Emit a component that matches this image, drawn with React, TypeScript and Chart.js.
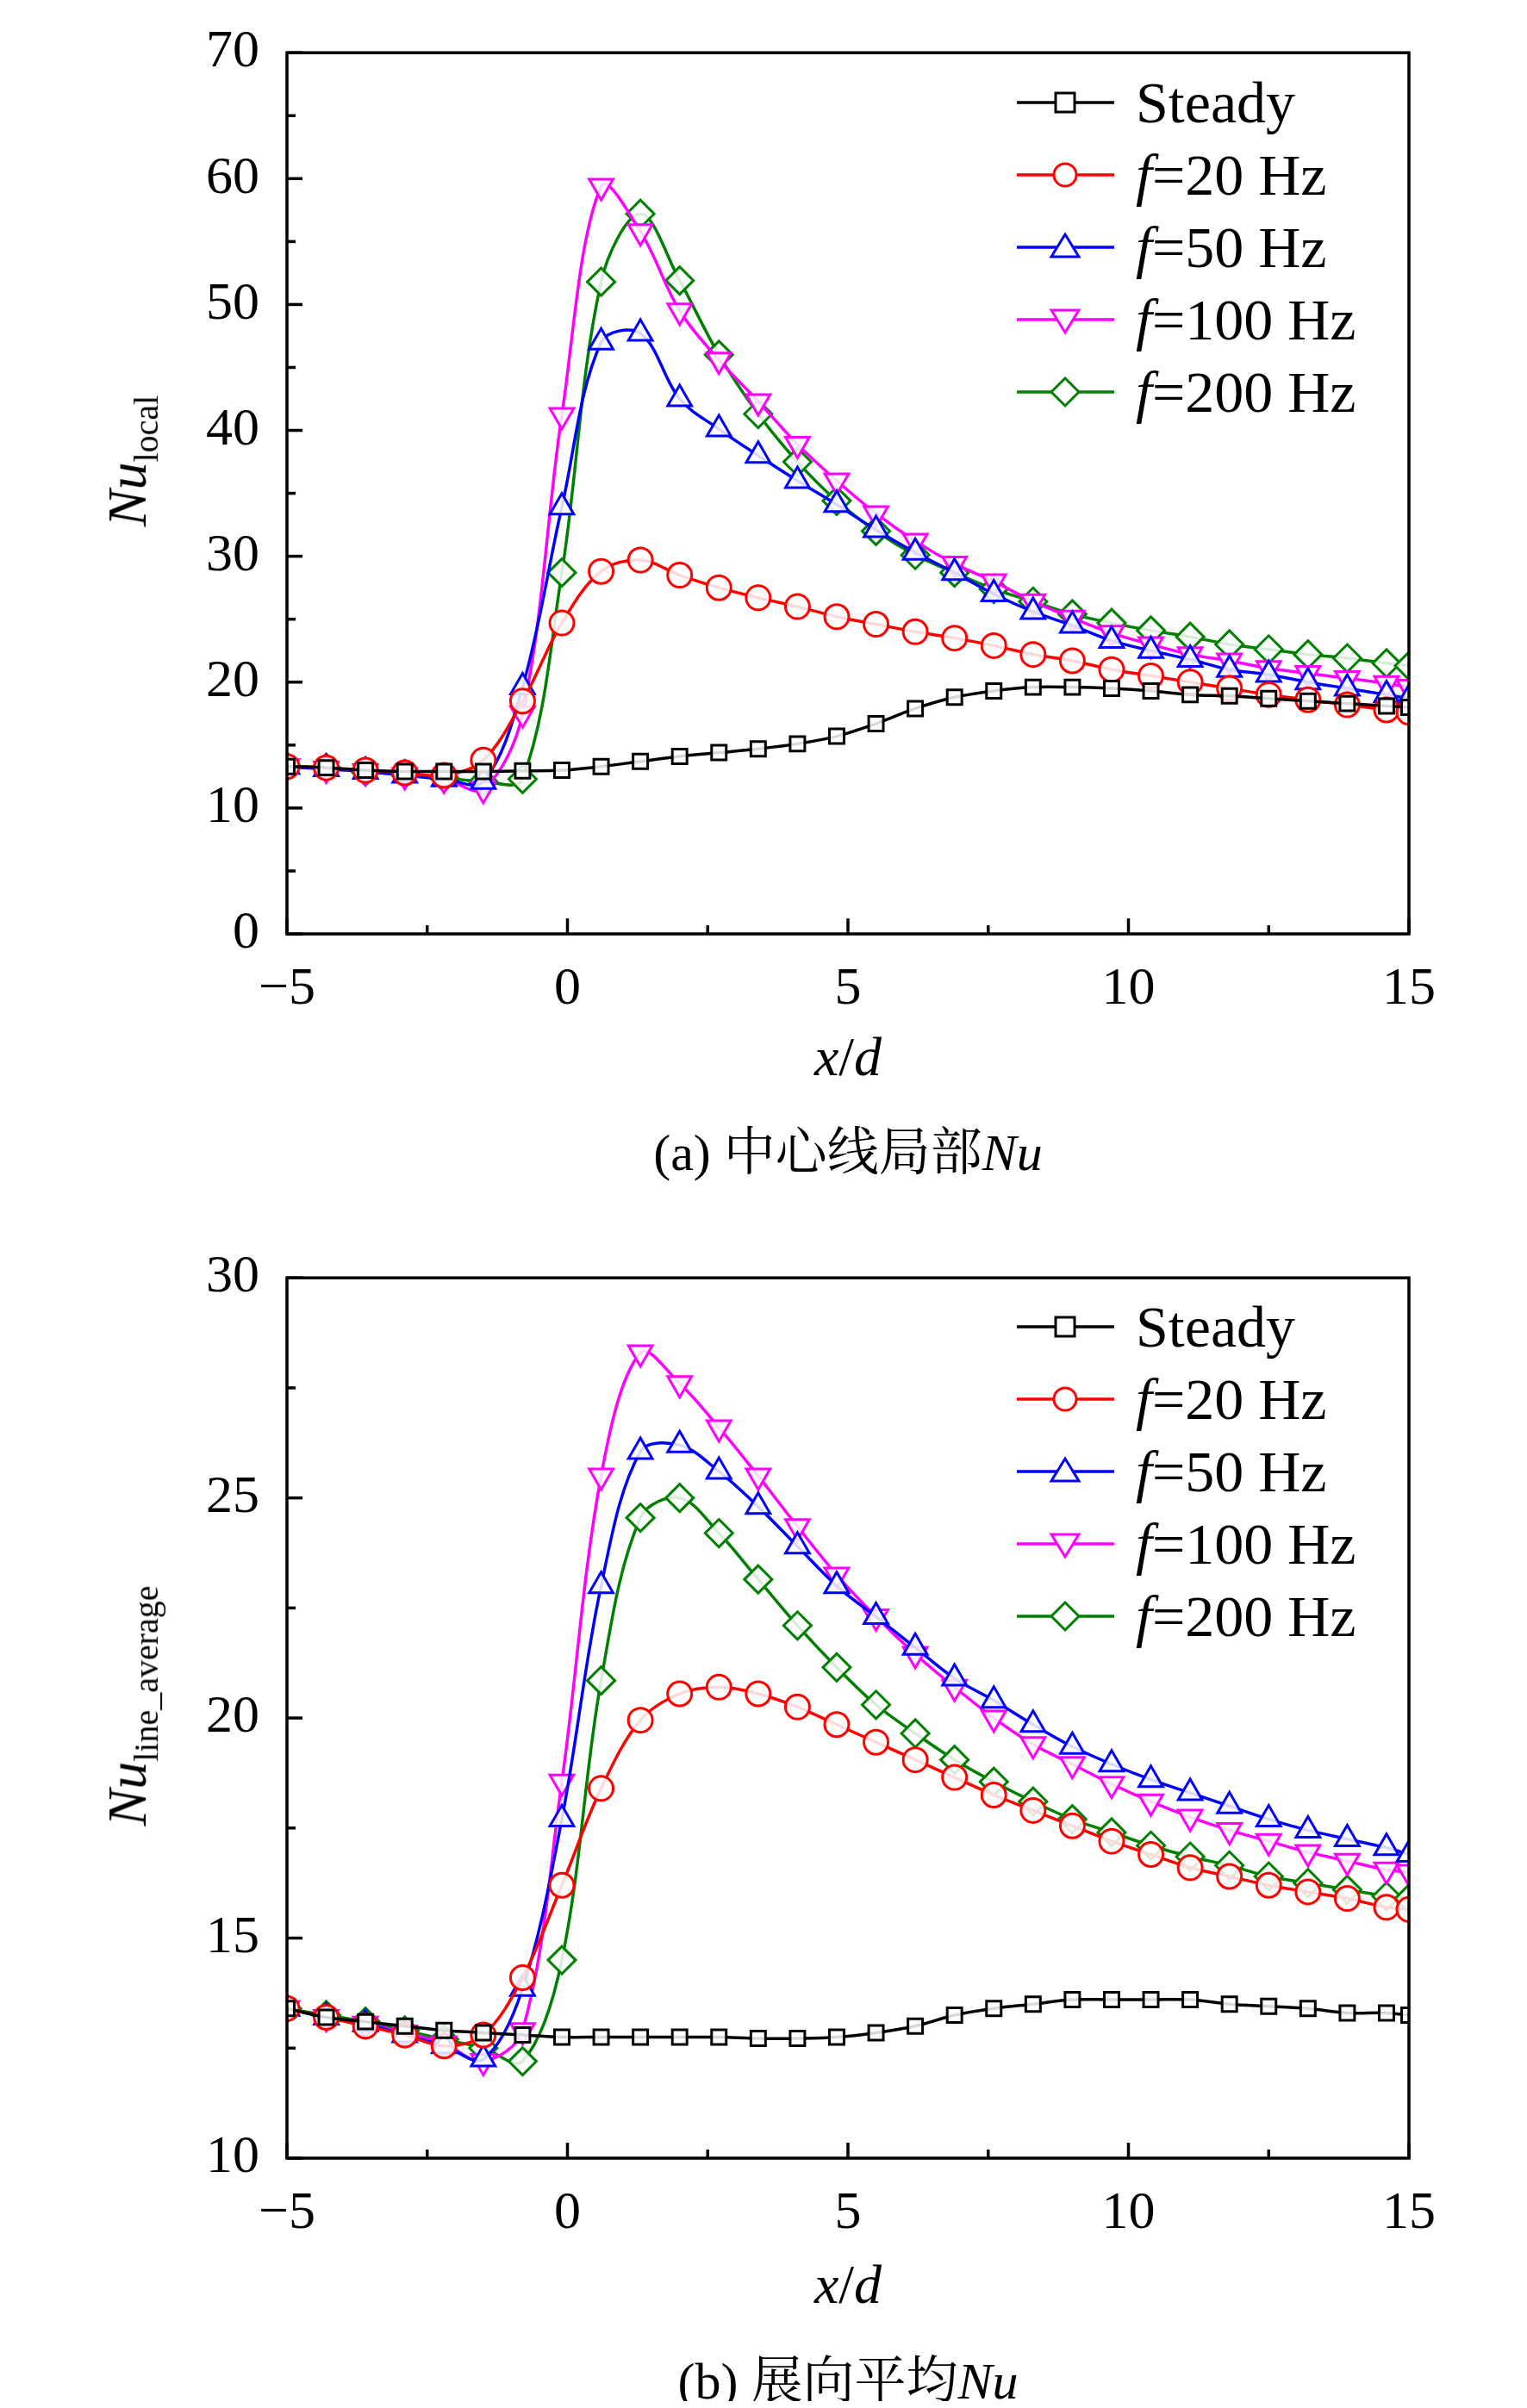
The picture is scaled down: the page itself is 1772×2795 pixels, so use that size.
import React, { useEffect, useRef } from "react";
import { Chart, registerables } from "chart.js";
Chart.register(...registerables);

const xValues = [-5, -4.3, -3.6, -2.9, -2.2, -1.5, -0.8, -0.1, 0.6, 1.3, 2.0, 2.7, 3.4, 4.1, 4.8, 5.5, 6.2, 6.9, 7.6, 8.3, 9.0, 9.7, 10.4, 11.1, 11.8, 12.5, 13.2, 13.9, 14.6, 15];
const seriesNames = ["Steady", "20 Hz", "50 Hz", "100 Hz", "200 Hz"];
const seriesColors = ["#000000", "#ff0000", "#0000ff", "#ff00ff", "#008000"];

// (a) centreline local Nu
const aSteady = [13.3, 13.2, 13.0, 12.9, 12.9, 12.9, 12.95, 13.0, 13.3, 13.7, 14.1, 14.4, 14.7, 15.1, 15.7, 16.7, 17.9, 18.8, 19.3, 19.6, 19.6, 19.5, 19.3, 19.0, 18.9, 18.7, 18.5, 18.3, 18.1, 18.0];
const a20 = [13.3, 13.2, 13.0, 12.8, 12.6, 13.8, 18.5, 24.7, 28.8, 29.7, 28.5, 27.5, 26.7, 26.0, 25.2, 24.6, 24.0, 23.5, 22.9, 22.2, 21.7, 21.0, 20.5, 20.0, 19.5, 19.0, 18.6, 18.2, 17.8, 17.6];
const a50 = [13.3, 13.1, 12.9, 12.6, 12.3, 12.1, 19.6, 33.9, 47.0, 47.7, 42.5, 40.1, 38.0, 36.0, 34.1, 32.1, 30.3, 28.7, 27.0, 25.6, 24.5, 23.3, 22.5, 21.8, 21.0, 20.6, 20.0, 19.5, 19.0, 18.7];
const a100 = [13.3, 13.1, 12.9, 12.6, 12.3, 11.5, 17.5, 41.2, 59.4, 55.8, 49.5, 45.6, 42.3, 38.9, 36.0, 33.4, 31.2, 29.4, 28.0, 26.4, 25.1, 23.9, 23.0, 22.2, 21.7, 21.1, 20.7, 20.3, 19.9, 19.6];
const a200 = [13.3, 13.2, 12.9, 12.7, 12.4, 12.1, 12.3, 28.7, 51.8, 57.2, 51.9, 46.0, 41.3, 37.5, 34.4, 32.0, 30.1, 28.7, 27.4, 26.4, 25.4, 24.7, 24.1, 23.6, 23.0, 22.6, 22.2, 21.9, 21.5, 21.3];

// (b) spanwise-averaged Nu
const bSteady = [13.4, 13.2, 13.1, 13.0, 12.9, 12.85, 12.8, 12.75, 12.75, 12.75, 12.75, 12.75, 12.72, 12.72, 12.75, 12.85, 13.0, 13.25, 13.4, 13.5, 13.6, 13.6, 13.6, 13.6, 13.5, 13.45, 13.4, 13.3, 13.3, 13.25];
const b20 = [13.4, 13.2, 13.0, 12.8, 12.55, 12.8, 14.1, 16.2, 18.4, 19.95, 20.55, 20.7, 20.55, 20.25, 19.85, 19.45, 19.05, 18.65, 18.25, 17.9, 17.55, 17.2, 16.9, 16.6, 16.4, 16.2, 16.05, 15.9, 15.7, 15.65];
const b50 = [13.4, 13.2, 13.05, 12.8, 12.55, 12.25, 13.85, 17.7, 23.0, 26.05, 26.2, 25.6, 24.8, 23.9, 23.0, 22.3, 21.6, 20.9, 20.4, 19.85, 19.35, 18.95, 18.6, 18.3, 18.0, 17.7, 17.45, 17.25, 17.05, 16.9];
const b100 = [13.4, 13.2, 13.05, 12.85, 12.6, 12.2, 12.9, 18.55, 25.5, 28.3, 27.6, 26.6, 25.5, 24.35, 23.25, 22.3, 21.45, 20.7, 20.0, 19.4, 18.95, 18.5, 18.1, 17.75, 17.45, 17.2, 16.95, 16.75, 16.55, 16.5];
const b200 = [13.4, 13.25, 13.1, 12.9, 12.7, 12.5, 12.2, 14.5, 20.85, 24.55, 25.0, 24.2, 23.15, 22.1, 21.15, 20.3, 19.65, 19.05, 18.55, 18.1, 17.7, 17.4, 17.1, 16.85, 16.65, 16.4, 16.25, 16.1, 15.95, 15.9];

const xTicks = [-5, 0, 5, 10, 15];

const SERIF = '"Liberation Serif", "Times New Roman", serif';
const CJK = '"Liberation Serif", "Noto Serif CJK SC", "Noto Sans CJK SC", serif';

const pointStyles: any[] = ["rect", "circle", "triangle", "triangle", "rectRot"];
const rotations = [0, 0, 0, 180, 0];
const radii = [12, 14, 16, 16, 16];

const W = 1772;
const PLOT_L = 333;
const PLOT_R = 1635;

const frameTicks = (minorX: number, minorY: number) => ({
  id: "frameTicks",
  afterDatasetsDraw(chart: any) {
    const { ctx, chartArea: a, scales } = chart;
    ctx.save();
    ctx.strokeStyle = "#000";
    ctx.lineWidth = 3.5;
    ctx.strokeRect(a.left, a.top, a.right - a.left, a.bottom - a.top);
    const xs = scales.x;
    for (let v = xs.min; v <= xs.max + 1e-6; v += minorX) {
      const p = xs.getPixelForValue(v);
      const major = Math.abs(v / (minorX * 2) - Math.round(v / (minorX * 2))) < 1e-6;
      ctx.beginPath();
      ctx.moveTo(p, a.bottom);
      ctx.lineTo(p, a.bottom - (major ? 18 : 10));
      ctx.stroke();
    }
    const ys = scales.y;
    for (let v = ys.min; v <= ys.max + 1e-6; v += minorY) {
      const p = ys.getPixelForValue(v);
      const major = Math.abs(v / (minorY * 2) - Math.round(v / (minorY * 2))) < 1e-6;
      ctx.beginPath();
      ctx.moveTo(a.left, p);
      ctx.lineTo(a.left + (major ? 18 : 10), p);
      ctx.stroke();
    }
    ctx.restore();
  },
});

function Panel(props: { series: number[][]; yMin: number; yMax: number; yStep: number; height: number; plotTop: number; plotBottom: number }) {
  const ref = useRef<HTMLCanvasElement>(null);
  useEffect(() => {
    const { series, yMin, yMax, yStep, height, plotTop, plotBottom } = props;
    const chart = new Chart(ref.current as HTMLCanvasElement, {
      type: "line",
      data: {
        datasets: series.map((s, i) => ({
          label: seriesNames[i],
          data: s.map((y, j) => ({ x: xValues[j], y })),
          borderColor: seriesColors[i],
          backgroundColor: "#ffffff",
          borderWidth: 3.5,
          pointStyle: pointStyles[i],
          rotation: rotations[i],
          pointRadius: radii[i],
          pointBorderWidth: 3,
          pointBackgroundColor: "rgba(255,255,255,0.85)",
          tension: 0.35,
        })),
      },
      options: {
        animation: false,
        responsive: false,
        devicePixelRatio: 1,
        layout: { padding: { top: plotTop, right: W - PLOT_R, bottom: 0, left: 0 } },
        plugins: { legend: { display: false }, tooltip: { enabled: false } },
        scales: {
          x: {
            type: "linear",
            min: -5,
            max: 15,
            afterBuildTicks: (s: any) => { s.ticks = xTicks.map((v) => ({ value: v })); },
            afterFit: (s: any) => { s.height = height - plotBottom; },
            grid: { display: false },
            border: { display: false },
            ticks: {
              color: "#000",
              padding: 20,
              font: { family: SERIF, size: 62 },
              maxRotation: 0,
              callback: (v: any) => String(v).replace("-", "\u2212"),
            },
          },
          y: {
            min: yMin,
            max: yMax,
            afterFit: (s: any) => { s.width = PLOT_L; },
            grid: { display: false },
            border: { display: false },
            ticks: { stepSize: yStep, color: "#000", padding: 24, font: { family: SERIF, size: 62 } },
          },
        },
      },
      plugins: [frameTicks(2.5, yStep / 2)],
    });
    return () => chart.destroy();
  }, []);
  return <canvas ref={ref} width={W} height={props.height} style={{ position: "absolute", left: 0, top: 0 }} />;
}

function Legend(props: { top: number }) {
  const rowH = 84;
  return (
    <div style={{ position: "absolute", left: 0, top: props.top, width: W }}>
      {seriesNames.map((n, i) => {
        const y = i * rowH;
        const c = seriesColors[i];
        let marker: any;
        if (i === 0) marker = <rect x={45} y={-1} width={22} height={22} fill="#fff" stroke={c} strokeWidth={3} />;
        else if (i === 1) marker = <circle cx={56} cy={10} r={13} fill="#fff" stroke={c} strokeWidth={3} />;
        else if (i === 2) marker = <polygon points="56,-5 72,21 40,21" fill="#fff" stroke={c} strokeWidth={3} />;
        else if (i === 3) marker = <polygon points="40,-1 72,-1 56,25" fill="#fff" stroke={c} strokeWidth={3} />;
        else marker = <polygon points="56,-6 72,10 56,26 40,10" fill="#fff" stroke={c} strokeWidth={3} />;
        return (
          <div key={n} style={{ position: "absolute", left: 1180, top: y - 40, height: 80, display: "flex", alignItems: "center" }}>
            <svg width={114} height={40} viewBox="0 -10 114 40" style={{ overflow: "visible" }}>
              <line x1={0} y1={10} x2={113} y2={10} stroke={c} strokeWidth={3.5} />
              {marker}
            </svg>
            <span style={{ marginLeft: 24, fontFamily: SERIF, fontSize: 68, whiteSpace: "nowrap", color: "#000" }}>
              {i === 0 ? "Steady" : (<><i>f</i>={n}</>)}
            </span>
          </div>
        );
      })}
    </div>
  );
}

function YTitle(props: { cx: number; cy: number; sub: string }) {
  return (
    <div style={{ position: "absolute", left: props.cx, top: props.cy, transform: "translate(-50%,-50%) rotate(-90deg)", fontFamily: SERIF, fontSize: 64, whiteSpace: "nowrap" }}>
      <i>Nu</i><sub style={{ fontSize: 40 }}>{props.sub}</sub>
    </div>
  );
}

function Centered(props: { cx: number; cy: number; children: any; size: number; family: string }) {
  return (
    <div style={{ position: "absolute", left: props.cx, top: props.cy, transform: "translate(-50%,-50%)", fontFamily: props.family, fontSize: props.size, whiteSpace: "nowrap" }}>
      {props.children}
    </div>
  );
}

export default function App() {
  return (
    <div style={{ position: "relative", width: W, height: 2795, margin: -8, background: "#fff", overflow: "hidden" }}>
      <div style={{ position: "absolute", left: 0, top: 0, width: W, height: 1200 }}>
        <Panel series={[aSteady, a20, a50, a100, a200]} yMin={0} yMax={70} yStep={10} height={1200} plotTop={12} plotBottom={1084} />
        <Legend top={119} />
        <YTitle cx={152} cy={535} sub="local" />
      </div>
      <Centered cx={984} cy={1227} size={64} family={SERIF}><i>x</i>/<i>d</i></Centered>
      <Centered cx={984} cy={1332} size={60} family={CJK}>(a) 中心线局部<i>Nu</i></Centered>
      <div style={{ position: "absolute", left: 0, top: 1422, width: W, height: 1200 }}>
        <Panel series={[bSteady, b20, b50, b100, b200]} yMin={10} yMax={30} yStep={5} height={1200} plotTop={12} plotBottom={1083} />
        <Legend top={118} />
        <YTitle cx={152} cy={558} sub="line_average" />
      </div>
      <Centered cx={984} cy={2652} size={64} family={SERIF}><i>x</i>/<i>d</i></Centered>
      <Centered cx={984} cy={2758} size={60} family={CJK}>(b) 展向平均<i>Nu</i></Centered>
    </div>
  );
}
